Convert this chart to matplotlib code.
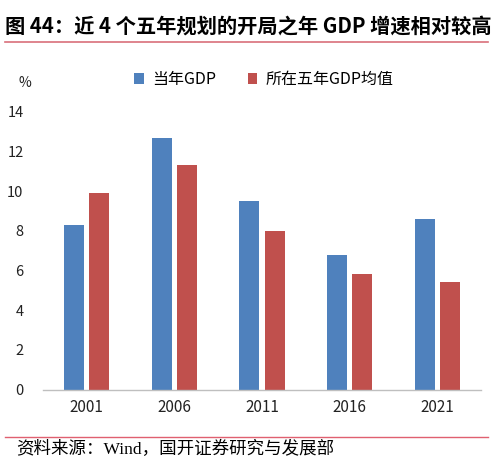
import matplotlib
matplotlib.use("Agg")
import matplotlib.pyplot as plt
from matplotlib.lines import Line2D
import numpy as np

plt.rcParams['font.family'] = ['Noto Sans CJK SC', 'DejaVu Sans']

categories = ["2001", "2006", "2011", "2016", "2021"]
gdp_year = [8.3, 12.7, 9.5, 6.8, 8.6]
gdp_avg5 = [9.9, 11.3, 8.0, 5.8, 5.4]
series_names = ["当年GDP", "所在五年GDP均值"]
yticks = [0, 2, 4, 6, 8, 10, 12, 14]
title = "图 44：近 4 个五年规划的开局之年 GDP 增速相对较高"
source = "资料来源：Wind，国开证券研究与发展部"

blue = "#4F81BD"
red = "#C0504D"

fig = plt.figure(figsize=(4.93, 4.63), dpi=100)
ax = fig.add_axes([0.0872, 0.1585, 0.8885, 0.6002])

x = np.arange(len(categories))
w = 0.228
off = 0.143
ax.bar(x - off, gdp_year, width=w, color=blue, label=series_names[0])
ax.bar(x + off, gdp_avg5, width=w, color=red, label=series_names[1])

ax.set_xlim(-0.5, len(categories) - 0.5)
ax.set_ylim(0, 14)
ax.set_yticks(yticks)
ax.set_yticklabels([str(v) for v in yticks], fontsize=10.5, color="#222222")
ax.set_xticks(x)
ax.set_xticklabels(categories, fontsize=11, color="#222222")
ax.tick_params(axis='both', length=0)
ax.tick_params(axis='y', pad=14)
ax.tick_params(axis='x', pad=7)
for s in ["top", "right", "left"]:
    ax.spines[s].set_visible(False)
ax.spines["bottom"].set_color("#BFBFBF")
ax.spines["bottom"].set_linewidth(1.0)

leg = ax.legend(loc="center", bbox_to_anchor=(0.535, 0.828), bbox_transform=fig.transFigure,
                ncol=2, frameon=False, fontsize=11.5, handlelength=0.6, handleheight=0.6,
                handletextpad=0.5, columnspacing=2.0)

fig.text(0.051, 0.82, "%", fontsize=10, ha="center", va="center", color="#222222")

fig.text(0.01, 0.944, title, fontsize=14.6, fontweight="bold", ha="left", va="center",
         family=['Noto Sans CJK SC', 'DejaVu Sans'])
fig.add_artist(Line2D([0.01, 0.99], [0.909, 0.909], transform=fig.transFigure, color="#D9707A", lw=1.2))
fig.add_artist(Line2D([0.01, 0.99], [0.057, 0.057], transform=fig.transFigure, color="#E06070", lw=1.0))
fig.text(0.032, 0.030, source, fontsize=12.6, ha="left", va="center",
         family=['Liberation Serif', 'Noto Sans CJK SC'])

fig.savefig("out.png", dpi=100)
